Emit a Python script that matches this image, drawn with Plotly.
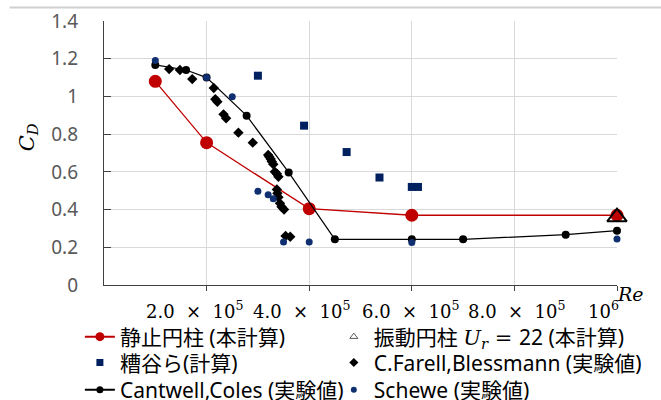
import plotly.graph_objects as go

# ---- data ----
static_re = [1.0e5, 2.0e5, 4.0e5, 6.0e5, 1.0e6]
static_cd = [1.08, 0.755, 0.405, 0.37, 0.37]

osc_re = [1.0e6]
osc_cd = [0.36]

kasuya_re = [3.0e5, 3.9e5, 4.73e5, 5.37e5, 6.0e5, 6.12e5]
kasuya_cd = [1.11, 0.845, 0.705, 0.57, 0.52, 0.52]

farell_re = [1.27e5, 1.48e5, 1.72e5, 2.14e5, 2.17e5, 2.21e5, 2.33e5, 2.38e5, 2.62e5, 2.90e5,
             3.20e5, 3.22e5, 3.25e5, 3.27e5, 3.30e5, 3.33e5, 3.37e5, 3.40e5,
             3.37e5, 3.38e5, 3.40e5, 3.43e5, 3.46e5, 3.51e5, 3.54e5, 3.63e5]
farell_cd = [1.145, 1.14, 1.092, 1.045, 0.985, 0.972, 0.905, 0.884, 0.808, 0.755,
             0.69, 0.68, 0.668, 0.655, 0.64, 0.60, 0.59, 0.574,
             0.507, 0.486, 0.465, 0.433, 0.415, 0.40, 0.26, 0.256]

cantwell_re = [1.0e5, 1.6e5, 2.0e5, 2.78e5, 3.6e5, 4.5e5, 6.0e5, 7.0e5, 9.0e5, 1.0e6]
cantwell_cd = [1.167, 1.14, 1.10, 0.898, 0.597, 0.242, 0.242, 0.242, 0.267, 0.288]

schewe_re = [1.0e5, 2.0e5, 2.5e5, 3.0e5, 3.2e5, 3.3e5, 3.5e5, 4.0e5, 6.0e5, 1.0e6]
schewe_cd = [1.19, 1.10, 0.998, 0.497, 0.479, 0.458, 0.228, 0.228, 0.226, 0.244]

x_tickvals = [2e5, 4e5, 6e5, 8e5, 1e6]
x_ticktext = ["2.0\u00a0\u00a0×\u00a0\u00a010<sup>5</sup>", "4.0\u00a0\u00a0×\u00a0\u00a010<sup>5</sup>",
              "6.0\u00a0\u00a0×\u00a0\u00a010<sup>5</sup>", "8.0\u00a0\u00a0×\u00a0\u00a010<sup>5</sup>",
              "10<sup>6</sup>"]
y_tickvals = [0, 0.2, 0.4, 0.6, 0.8, 1.0, 1.2, 1.4]
y_ticktext = ["0", "0.2", "0.4", "0.6", "0.8", "1", "1.2", "1.4"]

names = ["静止円柱 (本計算)",
         "振動円柱 <span style='font-family:DejaVu Serif'><i>U<sub>r</sub></i> = </span>22 (本計算)",
         "糟谷ら(計算)",
         "C.Farell,Blessmann (実験値)",
         "Cantwell,Coles (実験値)",
         "Schewe (実験値)"]

# ---- styling ----
RED = "#C00000"
NAVY = "#002060"
NAVY2 = "#0F2F70"
xlabel_dx = [-12, -7, -1, 3, -14]   # horizontal nudges of the x tick labels (px)

fig = go.Figure()

fig.add_trace(go.Scatter(x=static_re, y=static_cd, mode="lines+markers", showlegend=False,
                         line=dict(color=RED, width=1.3),
                         marker=dict(symbol="circle", size=13, color=RED), cliponaxis=False))
fig.add_trace(go.Scatter(x=osc_re, y=osc_cd, mode="markers", showlegend=False,
                         marker=dict(symbol="triangle-up-open", size=17, color="#000000",
                                     line=dict(width=2, color="#000000")), cliponaxis=False))
fig.add_trace(go.Scatter(x=kasuya_re, y=kasuya_cd, mode="markers", showlegend=False,
                         marker=dict(symbol="square", size=8, color=NAVY), cliponaxis=False))
fig.add_trace(go.Scatter(x=farell_re, y=farell_cd, mode="markers", showlegend=False,
                         marker=dict(symbol="diamond", size=8, color="#000000"), cliponaxis=False))
fig.add_trace(go.Scatter(x=cantwell_re, y=cantwell_cd, mode="lines+markers", showlegend=False,
                         line=dict(color="#000000", width=1.2),
                         marker=dict(symbol="circle", size=8, color="#000000"), cliponaxis=False))
fig.add_trace(go.Scatter(x=schewe_re, y=schewe_cd, mode="markers", showlegend=False,
                         marker=dict(symbol="circle", size=7, color=NAVY2), cliponaxis=False))

# legend entries (one legend box per entry, laid out as 3 rows x 2 columns)
leg_styles = [
    dict(mode="lines+markers", line=dict(color=RED, width=2), marker=dict(symbol="circle", size=9, color=RED)),
    dict(mode="markers", marker=dict(symbol="triangle-up-open", size=7, color="#595959", line=dict(width=1, color="#595959"))),
    dict(mode="markers", marker=dict(symbol="square", size=7, color=NAVY)),
    dict(mode="markers", marker=dict(symbol="diamond", size=7, color="#000000")),
    dict(mode="lines+markers", line=dict(color="#000000", width=2), marker=dict(symbol="circle", size=7, color="#000000")),
    dict(mode="markers", marker=dict(symbol="circle", size=6, color=NAVY2)),
]
legend_ids = ["legend", "legend2", "legend3", "legend4", "legend5", "legend6"]
for nm, lid, st in zip(names, legend_ids, leg_styles):
    fig.add_trace(go.Scatter(x=[None], y=[None], name=nm, showlegend=True, legend=lid, **st))

LEGFONT = dict(family="Noto Sans, Noto Sans CJK JP", size=21, color="#000000")
col_x = [-0.047, 0.448]
row_y = [-0.197, -0.295, -0.398]

def leg(i):
    return dict(orientation="h", x=col_x[i % 2], xanchor="left", y=row_y[i // 2], yanchor="middle",
                font=LEGFONT, itemsizing="trace", bgcolor="rgba(0,0,0,0)")

annotations = [
    dict(text="<i>C<sub>D</sub></i>", xref="paper", yref="paper", x=-0.148, y=0.56,
         xanchor="center", yanchor="middle",
         textangle=-90, showarrow=False, font=dict(family="DejaVu Serif", size=21, color="#000000")),
    dict(text="<i>Re</i>", xref="paper", yref="paper", x=1.027, y=-0.034,
         xanchor="center", yanchor="middle",
         showarrow=False, font=dict(family="DejaVu Serif", size=19, color="#000000")),
    # thin grey frame line across the top of the chart area
    dict(text=" ", xref="paper", yref="paper", x=-0.185, y=1.053, xanchor="left", yanchor="middle",
         width=660, height=1, borderpad=0, bgcolor="#D0D0D0", showarrow=False,
         font=dict(size=1)),
]
for tv, tt, dx in zip(x_tickvals, x_ticktext, xlabel_dx):
    annotations.append(dict(text=tt, xref="x", yref="paper", x=tv, y=0, xanchor="center", yanchor="middle",
                            xshift=dx, yshift=-25, showarrow=False,
                            font=dict(family="DejaVu Serif", size=18, color="#000000")))

fig.update_layout(
    width=661, height=400,
    margin=dict(l=104, r=44, t=21, b=115, autoexpand=False),
    plot_bgcolor="white", paper_bgcolor="white",
    font=dict(family="Noto Sans, Noto Sans CJK JP", size=17, color="#000000"),
    showlegend=True,
    xaxis=dict(range=[0, 1e6], tickvals=x_tickvals, showticklabels=False, automargin=False,
               showgrid=True, gridcolor="#D9D9D9", gridwidth=1, zeroline=False,
               showline=True, linecolor="#404040", linewidth=1.3,
               ticks="outside", ticklen=5, tickcolor="#404040"),
    yaxis=dict(range=[0, 1.4], tickvals=y_tickvals, ticktext=y_ticktext, automargin=False,
               showgrid=True, gridcolor="#D9D9D9", gridwidth=1, zeroline=False,
               showline=True, linecolor="#404040", linewidth=1.3,
               ticks="inside", ticklen=7, tickcolor="#404040", ticklabelstandoff=21,
               tickfont=dict(family="Noto Sans", size=19, color="#595959")),
    annotations=annotations,
)
for i, lid in enumerate(legend_ids):
    fig.update_layout({lid: leg(i)})

fig.write_html("out.html", config={"displayModeBar": False},
               post_script="document.body.style.margin='0';")
